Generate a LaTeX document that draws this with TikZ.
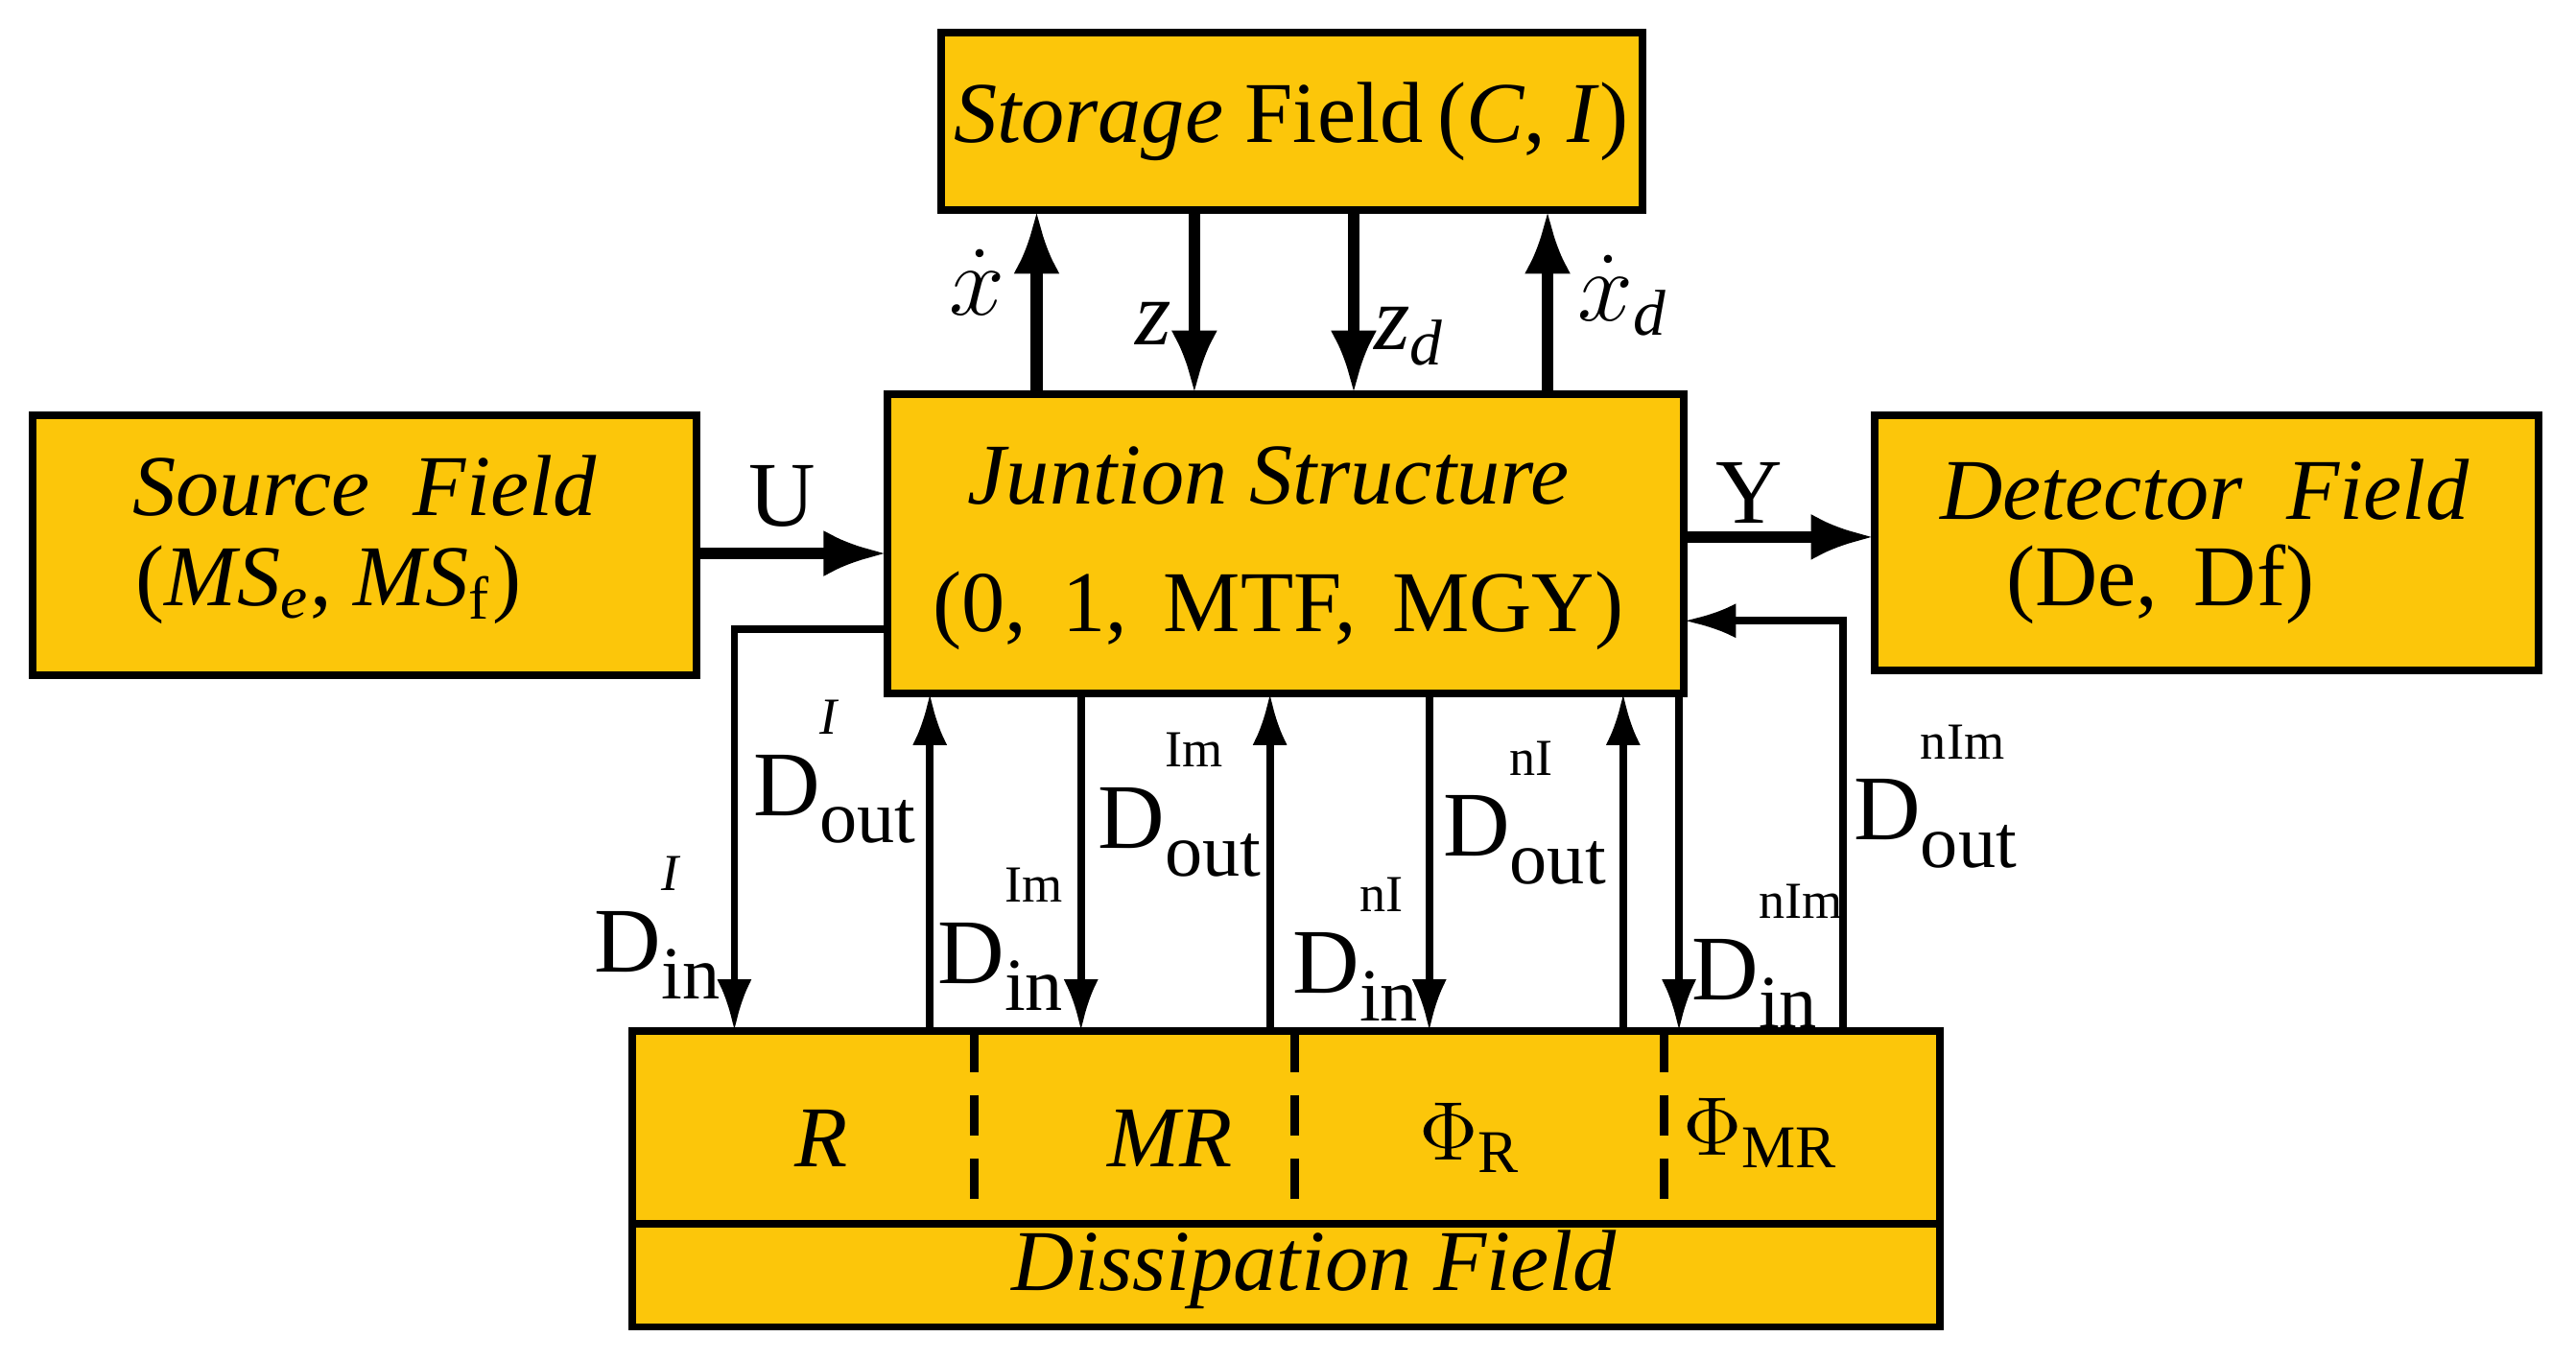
\documentclass[tikz,border=0pt]{standalone}
\usepackage{fontspec}
\setmainfont{Liberation Serif}
\usetikzlibrary{arrows.meta}
\definecolor{gold}{RGB}{252,198,10}
\newcommand{\Dl}[2]{D\raisebox{-0.3em}{\fontsize{13}{13}\selectfont\rlap{\raisebox{1.45em}{\fontsize{9}{9}\selectfont #1}}#2}}
\begin{document}
\begin{tikzpicture}[x=0.01cm,y=-0.01cm,
 box/.style={draw,line width=1.3pt,fill=gold},
 ar/.style={line width=2pt,-{Latex[length=11pt,width=8pt]}},
 ar2/.style={line width=1.3pt,-{Latex[length=9pt,width=6pt]}},
 lab/.style={font=\fontsize{16}{16}\selectfont,inner sep=1pt},
 btxt/.style={font=\fontsize{15}{18}\selectfont,align=center}]
\useasboundingbox (0,0) rectangle (1568,828);
\draw[box] (573,20) rectangle (1000,128);
\node[btxt] (st) at (786,74) {\textit{Storage} Field\,(\textit{C}, \textit{I})};
\draw[box] (540,240) rectangle (1025,422);
\node[btxt] (js) at (772,290) {\textit{Juntion Structure}};
\node[btxt] (js2) at (778,372) {(0,\, 1,\, MTF,\, MGY)};
\draw[box] (20,253) rectangle (424,411);
\node[btxt] (sf) at (222,296) {\textit{Source\ \ Field}};
\node[btxt] (sf2) at (200,356) {(\textit{MS}\textsubscript{\textit{e}}, \textit{MS}\textsubscript{f})};
\draw[box] (1141,253) rectangle (1545,408);
\node[btxt] (df) at (1342,298) {\textit{Detector\ \ Field}};
\node[btxt] (df2) at (1315,356) {(De,\, Df)};
\draw[box] (385,628) rectangle (1181,808);
\draw[line width=1.3pt] (385,745) -- (1181,745);
\foreach \x in {593,788,1013} \draw[line width=1.6pt,dash pattern=on 7pt off 4pt] (\x,628) -- (\x,745);
\node[btxt] (r) at (500,693) {\textit{R}};
\node[btxt] (mr) at (712,693) {\textit{MR}};
\node[btxt] (pr) at (895,693) {$\Phi$\textsubscript{R}};
\node[btxt] (pmr) at (1072,690) {$\Phi$\textsubscript{MR}};
\node[btxt] (dis) at (800,773) {\textit{Dissipation Field}};
% top arrows
\draw[ar] (631,240) -- (631,128);
\draw[ar] (727,128) -- (727,240);
\draw[ar] (824,128) -- (824,240);
\draw[ar] (942,240) -- (942,128);
\node[lab] at (595,172) {$\dot{x}$};
\node[lab] at (702,197) {\textit{z}};
\node[lab] at (858,205) {\textit{z}\textsubscript{\textit{d}}};
\node[lab] at (988,180) {$\dot{x}$\textsubscript{\textit{d}}};
% side arrows
\draw[ar] (424,337) -- (540,337);
\draw[ar] (1025,327) -- (1141,327);
\node[lab] at (476,302) {U};
\node[lab] at (1065,300) {Y};
% bottom connections
\draw[ar2] (540,383) -- (447,383) -- (447,628);
\draw[ar2] (566,628) -- (566,422);
\draw[ar2] (658,422) -- (658,628);
\draw[ar2] (773,628) -- (773,422);
\draw[ar2] (870,422) -- (870,628);
\draw[ar2] (988,628) -- (988,422);
\draw[ar2] (1022,422) -- (1022,628);
\draw[ar2] (1122,628) -- (1122,378) -- (1025,378);
\node[lab] at (400,565) {\Dl{\textit{I}}{in}};
\node[lab] at (508,470) {\Dl{\textit{I}}{out}};
\node[lab] at (609,572) {\Dl{Im}{in}};
\node[lab] at (718,490) {\Dl{Im}{out}};
\node[lab] at (825,578) {\Dl{nI}{in}};
\node[lab] at (928,495) {\Dl{nI}{out}};
\node[lab] at (1068,582) {\Dl{nIm}{in}};
\node[lab] at (1178,485) {\Dl{nIm}{out}};
\end{tikzpicture}
\end{document}
